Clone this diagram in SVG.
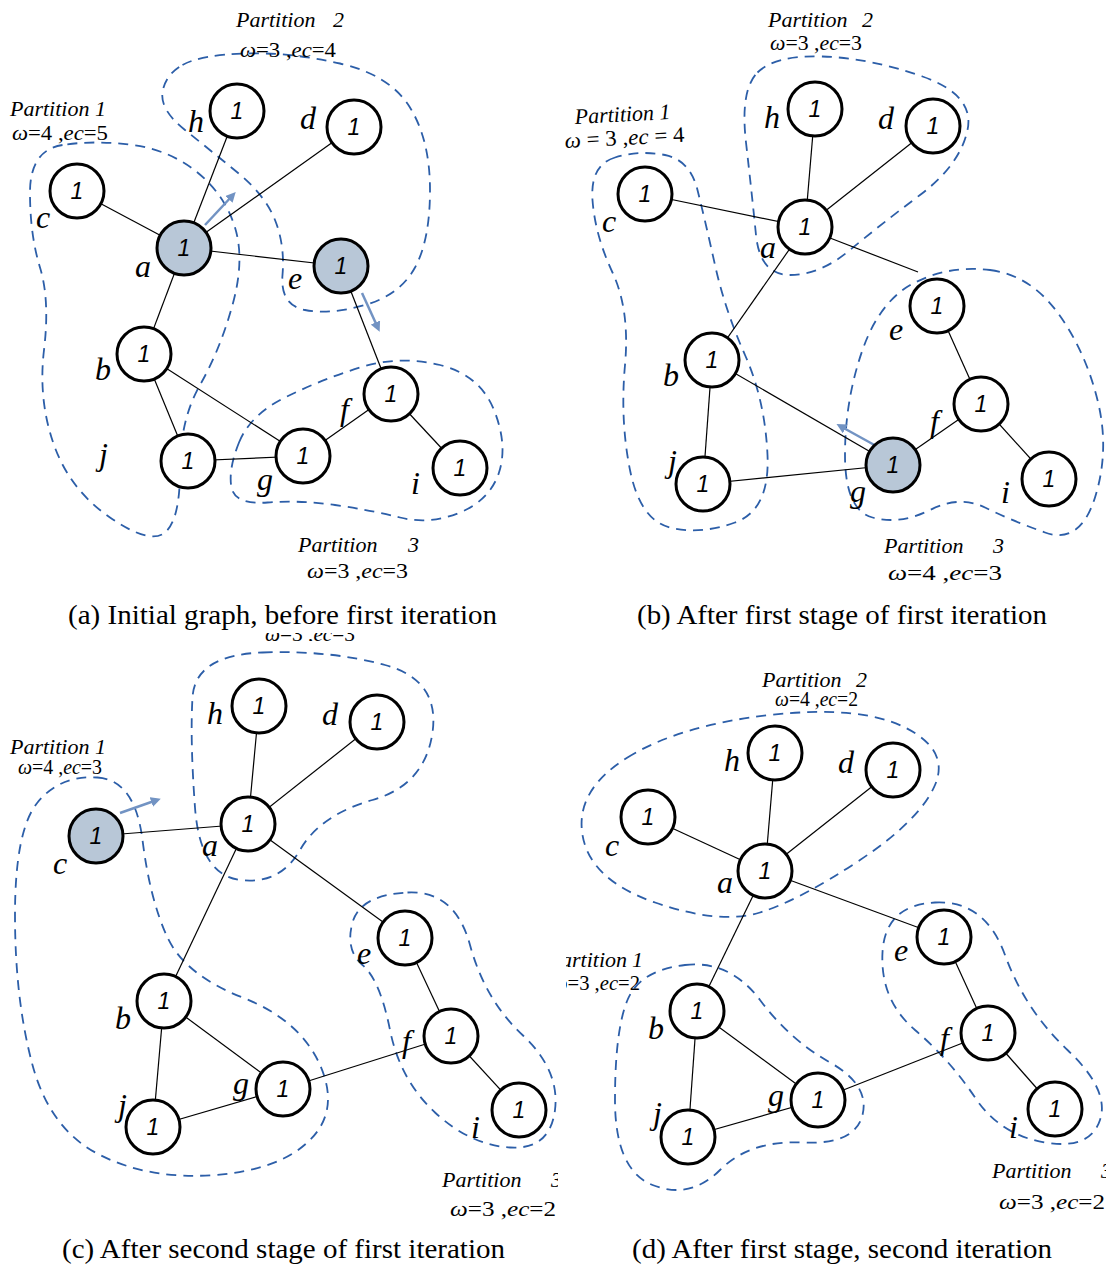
<svg xmlns="http://www.w3.org/2000/svg" width="1106" height="1268" viewBox="0 0 1106 1268">
<style>
.n{fill:#fff;stroke:#000;stroke-width:3}
.s{fill:#b8c7d7;stroke:#000;stroke-width:3}
.num{font-family:"Liberation Sans",sans-serif;font-style:italic;font-size:23px;text-anchor:middle}
.lbl{font-family:"Liberation Serif",serif;font-style:italic;font-size:32px}
.e{stroke:#000;stroke-width:1.2;fill:none}
.p{fill:none;stroke:#2c5ea8;stroke-width:1.8;stroke-dasharray:10 7}
.ar{stroke:#7293c3;stroke-width:2.5;fill:none}
.pt{font-family:"Liberation Serif",serif;font-style:italic;font-size:22px}
.w{font-family:"Liberation Serif",serif;font-size:22px}
.it{font-style:italic}
.cap{font-family:"Liberation Serif",serif;font-size:28px;text-anchor:middle}
</style>
<defs>
<marker id="ah" markerWidth="10" markerHeight="10" refX="6" refY="5" orient="auto" markerUnits="userSpaceOnUse" viewBox="0 0 10 10">
<path d="M0,0 L10,5 L0,10 Z" fill="#7293c3"/>
</marker>
<clipPath id="clipC"><rect x="0" y="640" width="558" height="600"/></clipPath>
<clipPath id="clipD"><rect x="566" y="640" width="540" height="600"/></clipPath>
<clipPath id="clipTop"><rect x="0" y="633" width="560" height="8"/></clipPath>
</defs>

<!-- Panel (a) -->
<g id="partitions-a">
<path class="p" d="M62.5,145 Q30,150 30,192.5 Q30,235 40,267.5 Q50,300 44,350 Q38,400 54,445 Q70,490 110,517.5 Q150,545 165,532.5 Q180,520 180,470 Q180,420 200,385 Q220,350 232.5,305 Q245,260 235,227.5 Q225,195 197.5,172.5 Q170,150 132.5,145 Q95,140 62.5,145 Z"/>
<path class="p" d="M182.5,65 Q200,55 245,53.5 Q290,52 340,63.5 Q390,75 410,107.5 Q430,140 430,190 Q430,240 415,267.5 Q400,295 365,305 Q330,315 305,310 Q280,305 282.5,275 Q285,245 275,220 Q265,195 237.5,172.5 Q210,150 185,130 Q160,110 162.5,92.5 Q165,75 182.5,65 Z"/>
<path class="p" d="M239,442.5 Q250,415 285,397.5 Q320,380 360,367.5 Q400,355 440,365 Q480,375 494,410 Q508,445 499,472.5 Q490,500 460,512.5 Q430,525 400,517.5 Q370,510 335,505 Q300,500 267.5,502.5 Q235,505 231.5,487.5 Q228,470 239,442.5 Z"/>
</g>
<g id="edges-a">
<line class="e" x1="184" y1="248" x2="237" y2="111"/>
<line class="e" x1="184" y1="248" x2="354" y2="127"/>
<line class="e" x1="184" y1="248" x2="77" y2="191"/>
<line class="e" x1="184" y1="248" x2="341" y2="266"/>
<line class="e" x1="184" y1="248" x2="144" y2="354"/>
<line class="e" x1="341" y1="266" x2="391" y2="394"/>
<line class="e" x1="144" y1="354" x2="188" y2="461"/>
<line class="e" x1="144" y1="354" x2="303" y2="456"/>
<line class="e" x1="188" y1="461" x2="303" y2="456"/>
<line class="e" x1="303" y1="456" x2="391" y2="394"/>
<line class="e" x1="391" y1="394" x2="460" y2="468"/>
<line class="ar" x1="205" y1="225" x2="233" y2="195" marker-end="url(#ah)"/>
<line class="ar" x1="362" y1="293" x2="378" y2="328" marker-end="url(#ah)"/>
</g>
<g id="a-h"><circle class="n" cx="237" cy="111" r="27"/><text class="num" x="237" y="119">1</text><text class="lbl" x="188" y="132">h</text></g>
<g id="a-d"><circle class="n" cx="354" cy="127" r="27"/><text class="num" x="354" y="135">1</text><text class="lbl" x="300" y="129">d</text></g>
<g id="a-c"><circle class="n" cx="77" cy="191" r="27"/><text class="num" x="77" y="199">1</text><text class="lbl" x="36" y="228">c</text></g>
<g id="a-a"><circle class="s" cx="184" cy="248" r="27"/><text class="num" x="184" y="256">1</text><text class="lbl" x="135" y="277">a</text></g>
<g id="a-e"><circle class="s" cx="341" cy="266" r="27"/><text class="num" x="341" y="274">1</text><text class="lbl" x="288" y="289">e</text></g>
<g id="a-b"><circle class="n" cx="144" cy="354" r="27"/><text class="num" x="144" y="362">1</text><text class="lbl" x="95" y="380">b</text></g>
<g id="a-f"><circle class="n" cx="391" cy="394" r="27"/><text class="num" x="391" y="402">1</text><text class="lbl" x="340" y="420">f</text></g>
<g id="a-j"><circle class="n" cx="188" cy="461" r="27"/><text class="num" x="188" y="469">1</text><text class="lbl" x="99" y="465">j</text></g>
<g id="a-g"><circle class="n" cx="303" cy="456" r="27"/><text class="num" x="303" y="464">1</text><text class="lbl" x="257" y="490">g</text></g>
<g id="a-i"><circle class="n" cx="460" cy="468" r="27"/><text class="num" x="460" y="476">1</text><text class="lbl" x="411" y="494">i</text></g>
<g id="labels-a">
<text class="pt" x="10" y="116" font-size="20">Partition 1</text>
<text class="w" x="12" y="140" font-size="21" textLength="96" lengthAdjust="spacingAndGlyphs"><tspan class="it">ω</tspan>=4 ,<tspan class="it">ec</tspan>=5</text>
<text class="pt" x="236" y="27">Partition<tspan x="333">2</tspan></text>
<text class="w" x="240" y="57" textLength="96" lengthAdjust="spacingAndGlyphs"><tspan class="it">ω</tspan>=3 ,<tspan class="it">ec</tspan>=4</text>
<text class="pt" x="298" y="552">Partition<tspan x="408">3</tspan></text>
<text class="w" x="307" y="578" textLength="101" lengthAdjust="spacingAndGlyphs"><tspan class="it">ω</tspan>=3 ,<tspan class="it">ec</tspan>=3</text>
<text class="cap" x="282.5" y="624" textLength="429" lengthAdjust="spacingAndGlyphs">(a) Initial graph, before first iteration</text>
</g>

<!-- Panel (b) -->
<g id="partitions-b">
<path class="p" d="M615,157.5 Q590,165 592.5,200 Q595,235 612.5,272.5 Q630,310 625,365 Q620,420 630,470 Q640,520 670,527.5 Q700,535 735,522.5 Q770,510 767.5,455 Q765,400 745,355 Q725,310 715,265 Q705,220 697.5,190 Q690,160 665,155 Q640,150 615,157.5 Z"/>
<path class="p" d="M757.5,72.5 Q775,55 822.5,56.5 Q870,58 922.5,76.5 Q975,95 967.5,130 Q960,165 920,195 Q880,225 850,250 Q820,275 790,275 Q760,275 756,235 Q752,195 746,142.5 Q740,90 757.5,72.5 Z"/>
<path class="p" d="M990,270 Q1030,275 1057.5,312.5 Q1085,350 1097.5,400 Q1110,450 1095,497.5 Q1080,545 1045,532.5 Q1010,520 985,507.5 Q960,495 930,510 Q900,525 872.5,517.5 Q845,510 845,455 Q845,400 862.5,350 Q880,300 915,282.5 Q950,265 990,270 Z"/>
</g>
<g id="edges-b">
<line class="e" x1="805" y1="227" x2="815" y2="109"/>
<line class="e" x1="805" y1="227" x2="933" y2="126"/>
<line class="e" x1="805" y1="227" x2="645" y2="194"/>
<line class="e" x1="830" y1="238" x2="918" y2="272"/>
<line class="e" x1="805" y1="227" x2="712" y2="360"/>
<line class="e" x1="712" y1="360" x2="703" y2="484"/>
<line class="e" x1="712" y1="360" x2="893" y2="465"/>
<line class="e" x1="703" y1="484" x2="893" y2="465"/>
<line class="e" x1="937" y1="306" x2="981" y2="404"/>
<line class="e" x1="981" y1="404" x2="1049" y2="479"/>
<line class="e" x1="893" y1="465" x2="981" y2="404"/>
<line class="ar" x1="878" y1="447" x2="840" y2="426" marker-end="url(#ah)"/>
</g>
<g id="b-h"><circle class="n" cx="815" cy="109" r="27"/><text class="num" x="815" y="117">1</text><text class="lbl" x="764" y="128">h</text></g>
<g id="b-d"><circle class="n" cx="933" cy="126" r="27"/><text class="num" x="933" y="134">1</text><text class="lbl" x="878" y="129">d</text></g>
<g id="b-c"><circle class="n" cx="645" cy="194" r="27"/><text class="num" x="645" y="202">1</text><text class="lbl" x="602" y="232">c</text></g>
<g id="b-a"><circle class="n" cx="805" cy="227" r="27"/><text class="num" x="805" y="235">1</text><text class="lbl" x="760" y="258">a</text></g>
<g id="b-e"><circle class="n" cx="937" cy="306" r="27"/><text class="num" x="937" y="314">1</text><text class="lbl" x="889" y="340">e</text></g>
<g id="b-b"><circle class="n" cx="712" cy="360" r="27"/><text class="num" x="712" y="368">1</text><text class="lbl" x="663" y="386">b</text></g>
<g id="b-f"><circle class="n" cx="981" cy="404" r="27"/><text class="num" x="981" y="412">1</text><text class="lbl" x="930" y="432">f</text></g>
<g id="b-j"><circle class="n" cx="703" cy="484" r="27"/><text class="num" x="703" y="492">1</text><text class="lbl" x="668" y="472">j</text></g>
<g id="b-g"><circle class="s" cx="893" cy="465" r="27"/><text class="num" x="893" y="473">1</text><text class="lbl" x="850" y="502">g</text></g>
<g id="b-i"><circle class="n" cx="1049" cy="479" r="27"/><text class="num" x="1049" y="487">1</text><text class="lbl" x="1001" y="503">i</text></g>
<g id="labels-b">
<text class="pt" x="575" y="124" font-size="20" transform="rotate(-3 575 124)">Partition 1</text>
<text class="w" x="565" y="148" font-size="20" textLength="120" lengthAdjust="spacingAndGlyphs" transform="rotate(-3 565 148)"><tspan class="it">ω</tspan> = 3 ,<tspan class="it">ec</tspan> = 4</text>
<text class="pt" x="768" y="27">Partition<tspan x="862">2</tspan></text>
<text class="w" x="770" y="50" font-size="20" textLength="92" lengthAdjust="spacingAndGlyphs"><tspan class="it">ω</tspan>=3 ,<tspan class="it">ec</tspan>=3</text>
<text class="pt" x="884" y="553">Partition<tspan x="993">3</tspan></text>
<text class="w" x="888" y="580" font-size="21" textLength="114" lengthAdjust="spacingAndGlyphs"><tspan class="it">ω</tspan>=4  ,<tspan class="it">ec</tspan>=3</text>
<text class="cap" x="842" y="624" textLength="410" lengthAdjust="spacingAndGlyphs">(b) After first stage of first iteration</text>
</g>

<!-- Panel (c) -->
<g id="partitions-c">
<path class="p" d="M97.5,777.5 Q135,780 142.5,840 Q150,900 167.5,937.5 Q185,975 242.5,997.5 Q300,1020 320,1065 Q340,1110 310,1140 Q280,1170 215,1175 Q150,1180 100,1155 Q50,1130 32.5,1065 Q15,1000 15,915 Q15,830 37.5,802.5 Q60,775 97.5,777.5 Z"/>
<path class="p" d="M262.5,652.5 Q330,650 385,665 Q440,680 432.5,732.5 Q425,785 372.5,800 Q320,815 300,850 Q280,885 240,880 Q200,875 195,807.5 Q190,740 192.5,697.5 Q195,655 262.5,652.5 Z"/>
<path class="p" d="M407.5,892.5 Q455,890 470,945 Q485,1000 522.5,1035 Q560,1070 555,1110 Q550,1150 510,1147.5 Q470,1145 435,1112.5 Q400,1080 390,1030 Q380,980 362.5,965 Q345,950 352.5,922.5 Q360,895 407.5,892.5 Z"/>
</g>
<g id="edges-c">
<line class="e" x1="248" y1="824" x2="259" y2="706"/>
<line class="e" x1="248" y1="824" x2="377" y2="722"/>
<line class="e" x1="248" y1="824" x2="96" y2="836"/>
<line class="e" x1="248" y1="824" x2="405" y2="938"/>
<line class="e" x1="248" y1="824" x2="164" y2="1001"/>
<line class="e" x1="164" y1="1001" x2="153" y2="1127"/>
<line class="e" x1="164" y1="1001" x2="283" y2="1089"/>
<line class="e" x1="153" y1="1127" x2="283" y2="1089"/>
<line class="e" x1="283" y1="1089" x2="451" y2="1036"/>
<line class="e" x1="405" y1="938" x2="451" y2="1036"/>
<line class="e" x1="451" y1="1036" x2="519" y2="1110"/>
<line class="ar" x1="120" y1="813" x2="157" y2="800" marker-end="url(#ah)"/>
</g>
<g id="c-h"><circle class="n" cx="259" cy="706" r="27"/><text class="num" x="259" y="714">1</text><text class="lbl" x="207" y="724">h</text></g>
<g id="c-d"><circle class="n" cx="377" cy="722" r="27"/><text class="num" x="377" y="730">1</text><text class="lbl" x="322" y="725">d</text></g>
<g id="c-c"><circle class="s" cx="96" cy="836" r="27"/><text class="num" x="96" y="844">1</text><text class="lbl" x="53" y="874">c</text></g>
<g id="c-a"><circle class="n" cx="248" cy="824" r="27"/><text class="num" x="248" y="832">1</text><text class="lbl" x="202" y="856">a</text></g>
<g id="c-e"><circle class="n" cx="405" cy="938" r="27"/><text class="num" x="405" y="946">1</text><text class="lbl" x="357" y="964">e</text></g>
<g id="c-b"><circle class="n" cx="164" cy="1001" r="27"/><text class="num" x="164" y="1009">1</text><text class="lbl" x="115" y="1029">b</text></g>
<g id="c-f"><circle class="n" cx="451" cy="1036" r="27"/><text class="num" x="451" y="1044">1</text><text class="lbl" x="402" y="1052">f</text></g>
<g id="c-g"><circle class="n" cx="283" cy="1089" r="27"/><text class="num" x="283" y="1097">1</text><text class="lbl" x="233" y="1094">g</text></g>
<g id="c-j"><circle class="n" cx="153" cy="1127" r="27"/><text class="num" x="153" y="1135">1</text><text class="lbl" x="118" y="1116">j</text></g>
<g id="c-i"><circle class="n" cx="519" cy="1110" r="27"/><text class="num" x="519" y="1118">1</text><text class="lbl" x="471" y="1138">i</text></g>
<g id="labels-c">
<g clip-path="url(#clipTop)"><text class="w" x="265" y="641" font-size="18" textLength="90" lengthAdjust="spacingAndGlyphs"><tspan class="it">ω</tspan>=3 ,<tspan class="it">ec</tspan>=3</text></g>
<text class="pt" x="10" y="754" font-size="20">Partition 1</text>
<text class="w" x="18" y="774" font-size="17" textLength="84" lengthAdjust="spacingAndGlyphs"><tspan class="it">ω</tspan>=4 ,<tspan class="it">ec</tspan>=3</text>
<g clip-path="url(#clipC)">
<text class="pt" x="442" y="1187">Partition<tspan x="551">3</tspan></text>
<text class="w" x="450" y="1216" font-size="23" textLength="106" lengthAdjust="spacingAndGlyphs"><tspan class="it">ω</tspan>=3 ,<tspan class="it">ec</tspan>=2</text>
</g>
<text class="cap" x="283.5" y="1258" textLength="443" lengthAdjust="spacingAndGlyphs">(c) After second stage of first iteration</text>
</g>

<!-- Panel (d) -->
<g id="partitions-d">
<path class="p" d="M627.5,757.5 Q680,725 770,715 Q860,705 905,727.5 Q950,750 935,785 Q920,820 860,860 Q800,900 760,912.5 Q720,925 655,902.5 Q590,880 582.5,835 Q575,790 627.5,757.5 Z"/>
<path class="p" d="M685,965 Q730,960 760,1000 Q790,1040 830,1062.5 Q870,1085 862.5,1115 Q855,1145 802.5,1142.5 Q750,1140 720,1170 Q690,1200 652.5,1185 Q615,1170 615,1100 Q615,1030 627.5,1000 Q640,970 685,965 Z"/>
<path class="p" d="M935,902.5 Q985,900 1005,955 Q1025,1010 1067.5,1050 Q1110,1090 1100,1120 Q1090,1150 1045,1142.5 Q1000,1135 975,1097.5 Q950,1060 915,1030 Q880,1000 882.5,952.5 Q885,905 935,902.5 Z"/>
</g>
<g id="edges-d">
<line class="e" x1="765" y1="871" x2="775" y2="753"/>
<line class="e" x1="765" y1="871" x2="893" y2="770"/>
<line class="e" x1="765" y1="871" x2="648" y2="817"/>
<line class="e" x1="765" y1="871" x2="944" y2="937"/>
<line class="e" x1="765" y1="871" x2="697" y2="1011"/>
<line class="e" x1="697" y1="1011" x2="688" y2="1137"/>
<line class="e" x1="697" y1="1011" x2="818" y2="1100"/>
<line class="e" x1="688" y1="1137" x2="818" y2="1100"/>
<line class="e" x1="818" y1="1100" x2="988" y2="1033"/>
<line class="e" x1="944" y1="937" x2="988" y2="1033"/>
<line class="e" x1="988" y1="1033" x2="1055" y2="1109"/>
</g>
<g id="d-h"><circle class="n" cx="775" cy="753" r="27"/><text class="num" x="775" y="761">1</text><text class="lbl" x="724" y="771">h</text></g>
<g id="d-d"><circle class="n" cx="893" cy="770" r="27"/><text class="num" x="893" y="778">1</text><text class="lbl" x="838" y="773">d</text></g>
<g id="d-c"><circle class="n" cx="648" cy="817" r="27"/><text class="num" x="648" y="825">1</text><text class="lbl" x="605" y="856">c</text></g>
<g id="d-a"><circle class="n" cx="765" cy="871" r="27"/><text class="num" x="765" y="879">1</text><text class="lbl" x="717" y="893">a</text></g>
<g id="d-e"><circle class="n" cx="944" cy="937" r="27"/><text class="num" x="944" y="945">1</text><text class="lbl" x="894" y="961">e</text></g>
<g id="d-b"><circle class="n" cx="697" cy="1011" r="27"/><text class="num" x="697" y="1019">1</text><text class="lbl" x="648" y="1039">b</text></g>
<g id="d-f"><circle class="n" cx="988" cy="1033" r="27"/><text class="num" x="988" y="1041">1</text><text class="lbl" x="940" y="1049">f</text></g>
<g id="d-g"><circle class="n" cx="818" cy="1100" r="27"/><text class="num" x="818" y="1108">1</text><text class="lbl" x="768" y="1106">g</text></g>
<g id="d-j"><circle class="n" cx="688" cy="1137" r="27"/><text class="num" x="688" y="1145">1</text><text class="lbl" x="653" y="1124">j</text></g>
<g id="d-i"><circle class="n" cx="1055" cy="1109" r="27"/><text class="num" x="1055" y="1117">1</text><text class="lbl" x="1009" y="1138">i</text></g>
<g id="labels-d">
<text class="pt" x="762" y="687">Partition<tspan x="856">2</tspan></text>
<text class="w" x="775" y="706" font-size="17" textLength="83" lengthAdjust="spacingAndGlyphs"><tspan class="it">ω</tspan>=4 ,<tspan class="it">ec</tspan>=2</text>
<g clip-path="url(#clipD)">
<text class="pt" x="627" y="967" font-size="21" text-anchor="end">Partition</text>
<text class="pt" x="632" y="967" font-size="21">1</text>
<text class="w" x="553" y="990" font-size="20" textLength="87" lengthAdjust="spacingAndGlyphs"><tspan class="it">ω</tspan>=3 ,<tspan class="it">ec</tspan>=2</text>
</g>
<text class="pt" x="992" y="1178">Partition<tspan x="1101">3</tspan></text>
<text class="w" x="999" y="1209" font-size="23" textLength="106" lengthAdjust="spacingAndGlyphs"><tspan class="it">ω</tspan>=3 ,<tspan class="it">ec</tspan>=2</text>
<text class="cap" x="842" y="1258" textLength="420" lengthAdjust="spacingAndGlyphs">(d) After first stage, second iteration</text>
</g>
</svg>
